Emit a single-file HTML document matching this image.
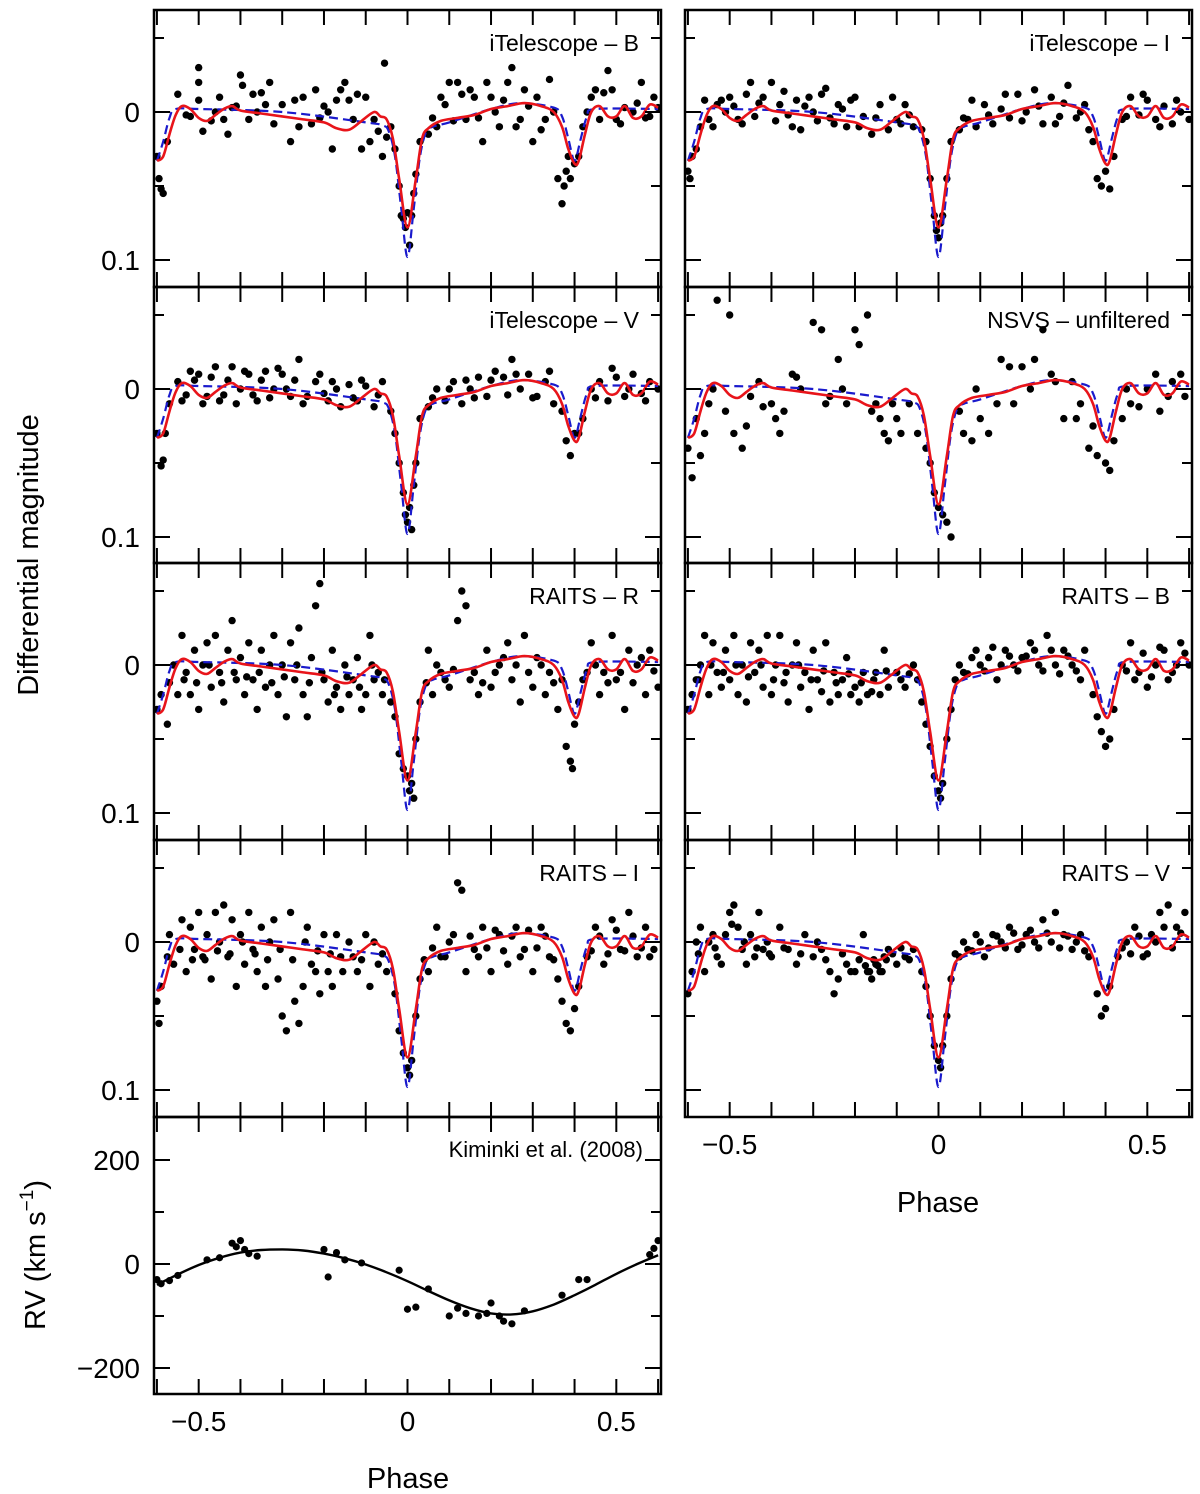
<!DOCTYPE html>
<html><head><meta charset="utf-8"><style>
html,body{margin:0;padding:0;background:#fff;}
svg{display:block;font-family:"Liberation Sans",sans-serif;}
</style></head><body>
<svg id="chart" width="1200" height="1494" viewBox="0 0 1200 1494"></svg>
<script>
// ---- data ----
const panelTitles = ["iTelescope – B","iTelescope – I","iTelescope – V","NSVS – unfiltered","RAITS – R","RAITS – B","RAITS – I","RAITS – V"];
const blueModelPhase = [-0.6,-0.585,-0.57,-0.555,-0.5,-0.3,-0.1,-0.06,-0.045,-0.03,-0.015,0,0.015,0.03,0.045,0.06,0.1,0.2,0.27,0.35,0.37,0.385,0.395,0.4,0.405,0.415,0.43,0.45,0.6];
const blueModelMag   = [0.033,0.02,0.004,-0.002,-0.002,0.0,0.007,0.009,0.013,0.03,0.065,0.098,0.065,0.03,0.013,0.01,0.007,-0.002,-0.006,-0.003,0.003,0.018,0.03,0.033,0.03,0.018,0.003,-0.002,-0.002];
const redModelPhase = [-0.6,-0.585,-0.57,-0.555,-0.54,-0.52,-0.5,-0.48,-0.46,-0.44,-0.42,-0.4,-0.35,-0.3,-0.25,-0.2,-0.17,-0.14,-0.11,-0.08,-0.065,-0.05,-0.035,-0.02,0,0.02,0.035,0.05,0.08,0.12,0.16,0.2,0.24,0.28,0.32,0.35,0.37,0.385,0.4,0.41,0.425,0.44,0.46,0.48,0.5,0.52,0.54,0.56,0.58,0.6];
const redModelMag   = [0.033,0.03,0.015,0.002,-0.004,-0.002,0.004,0.006,0.002,-0.002,-0.004,-0.001,0.001,0.003,0.005,0.007,0.011,0.012,0.006,0.0,0.003,0.005,0.018,0.045,0.078,0.045,0.018,0.011,0.006,0.004,0.002,-0.002,-0.004,-0.006,-0.004,0.0,0.01,0.025,0.035,0.033,0.015,0.0,-0.004,0.003,0.003,-0.004,0.004,0.003,-0.005,-0.003];
const pointsText = [
"-0.6,0.03 -0.595,0.045 -0.59,0.052 -0.585,0.055 -0.575,0.02 -0.55,-0.012 -0.53,0.002 -0.52,0.003 -0.5,-0.02 -0.5,-0.03 -0.5,-0.008 -0.49,0.013 -0.46,0.0 -0.44,0.005 -0.43,0.015 -0.42,-0.003 -0.41,-0.004 -0.4,-0.025 -0.395,-0.018 -0.38,0.005 -0.36,0.0 -0.35,-0.013 -0.34,-0.005 -0.33,-0.02 -0.3,-0.005 -0.28,0.02 -0.26,0.01 -0.25,-0.01 -0.23,0.008 -0.22,-0.015 -0.2,-0.004 -0.19,0.0 -0.18,0.025 -0.17,-0.008 -0.15,-0.02 -0.14,-0.008 -0.12,-0.012 -0.11,0.025 -0.1,-0.01 -0.09,0.02 -0.08,0.005 -0.07,0.013 -0.06,0.03 -0.055,-0.033 -0.05,0.017 -0.03,0.025 -0.02,0.05 -0.015,0.07 -0.01,0.072 -0.005,0.078 0,0.068 0.005,0.09 0.01,0.07 0.015,0.055 0.02,0.042 0.03,0.02 0.05,0.015 0.07,0.01 0.08,-0.01 0.1,-0.02 0.12,-0.02 0.14,0.005 0.15,-0.015 0.16,-0.01 0.18,0.02 0.2,-0.01 0.22,0.01 0.24,-0.02 0.25,-0.03 0.27,0.005 0.28,-0.015 0.3,0.02 0.31,-0.01 0.33,0.005 0.34,-0.022 0.36,0.045 0.37,0.062 0.375,0.05 0.38,0.04 0.385,0.03 0.39,0.045 0.4,0.035 0.41,0.03 0.42,0.01 0.44,-0.01 0.45,-0.015 0.47,-0.013 0.48,-0.028 0.5,0.005 0.52,-0.003 0.54,0.0 0.56,-0.02 0.58,0.003 0.6,-0.003 -0.47,0.006 -0.45,-0.01 -0.37,-0.012 -0.32,0.008 -0.27,-0.008 -0.21,0.004 -0.16,-0.015 -0.13,0.005 -0.04,0.01 0.06,0.004 0.09,-0.005 0.11,0.006 0.13,-0.012 0.17,0.004 0.19,-0.02 0.21,0.0 0.23,-0.008 0.26,0.01 0.29,-0.004 0.32,0.012 0.35,0.0 0.43,0.0 0.46,0.005 0.49,-0.015 0.51,0.008 0.55,-0.006 0.57,0.004 0.59,-0.01",
"-0.6,0.04 -0.595,0.045 -0.59,0.03 -0.58,0.025 -0.57,0.01 -0.56,-0.008 -0.55,0.005 -0.53,-0.005 -0.51,0.0 -0.5,-0.01 -0.48,0.005 -0.46,-0.012 -0.44,0.003 -0.42,-0.01 -0.4,-0.02 -0.38,-0.005 -0.36,0.002 -0.34,-0.008 -0.33,0.012 -0.31,-0.01 -0.3,0.0 -0.28,-0.012 -0.26,0.004 -0.24,-0.005 -0.22,0.01 -0.2,-0.01 -0.18,0.003 -0.16,0.015 -0.14,-0.005 -0.12,0.012 -0.1,0.005 -0.08,-0.005 -0.06,0.01 -0.04,0.012 -0.03,0.02 -0.02,0.045 -0.01,0.07 -0.005,0.08 0,0.085 0.005,0.075 0.01,0.07 0.02,0.045 0.03,0.02 0.05,0.012 0.07,0.005 0.09,0.01 0.11,-0.005 0.13,0.008 0.15,-0.002 0.17,0.004 0.19,-0.012 0.21,0.0 0.23,-0.015 0.25,0.008 0.27,-0.01 0.29,0.003 0.31,-0.018 0.33,0.004 0.35,-0.005 0.37,0.02 0.38,0.045 0.39,0.05 0.4,0.04 0.41,0.052 0.42,0.03 0.44,0.005 0.46,-0.01 0.48,0.002 0.5,-0.008 0.52,0.005 0.54,-0.004 0.56,0.008 0.58,0.0 0.6,0.005 -0.54,0.01 -0.52,-0.008 -0.49,-0.004 -0.47,0.008 -0.45,-0.02 -0.43,-0.006 -0.39,0.006 -0.37,-0.014 -0.35,0.01 -0.32,-0.004 -0.29,0.006 -0.27,-0.016 -0.25,0.008 -0.23,-0.002 -0.21,-0.008 -0.19,0.01 -0.15,0.004 -0.11,-0.01 -0.09,0.008 -0.07,0.002 0.06,0.004 0.08,-0.008 0.12,0.002 0.16,-0.012 0.2,0.006 0.24,-0.004 0.28,0.008 0.3,-0.006 0.34,0.0 0.36,0.012 0.45,0.003 0.49,-0.012 0.53,0.01 0.57,-0.008",
"-0.6,0.03 -0.59,0.052 -0.585,0.048 -0.58,0.03 -0.57,0.01 -0.55,-0.005 -0.54,0.008 -0.52,-0.012 -0.5,-0.01 -0.48,0.005 -0.46,-0.015 -0.44,0.004 -0.42,-0.015 -0.4,0.0 -0.38,-0.01 -0.36,0.008 -0.34,-0.012 -0.32,0.0 -0.3,-0.01 -0.28,0.005 -0.26,-0.02 -0.24,0.005 -0.22,-0.005 -0.2,0.003 -0.18,-0.005 -0.16,0.012 -0.14,-0.003 -0.12,0.008 -0.1,-0.002 -0.08,0.012 -0.06,-0.005 -0.04,0.015 -0.03,0.03 -0.02,0.05 -0.01,0.07 -0.005,0.085 0,0.09 0.005,0.08 0.01,0.095 0.015,0.065 0.02,0.05 0.03,0.02 0.05,0.012 0.07,0.0 0.09,0.008 0.11,-0.005 0.13,0.01 0.15,0.0 0.17,-0.008 0.19,0.005 0.21,-0.012 0.23,-0.008 0.25,-0.02 0.27,0.0 0.29,-0.01 0.31,0.005 0.33,-0.005 0.35,0.01 0.37,0.015 0.38,0.035 0.39,0.045 0.4,0.03 0.41,0.03 0.42,0.02 0.44,0.0 0.46,-0.005 0.48,0.008 0.5,-0.008 0.52,0.005 0.54,-0.01 0.56,0.003 0.58,-0.005 0.6,0.0 -0.53,0.004 -0.51,-0.006 -0.49,0.01 -0.47,-0.008 -0.45,0.008 -0.43,-0.006 -0.41,0.01 -0.39,-0.012 -0.37,0.004 -0.35,-0.006 -0.33,0.006 -0.31,-0.014 -0.29,0.0 -0.27,-0.006 -0.25,0.01 -0.21,-0.01 -0.19,0.008 -0.17,0.0 -0.13,0.006 -0.11,-0.006 -0.07,0.004 0.06,0.006 0.1,0.0 0.14,-0.006 0.16,0.006 0.2,-0.006 0.24,0.004 0.26,-0.01 0.3,0.006 0.34,-0.012 0.45,0.006 0.49,-0.014 0.53,0.0 0.57,0.008",
"-0.6,0.04 -0.59,0.06 -0.57,0.045 -0.56,0.03 -0.55,0.01 -0.53,-0.06 -0.5,-0.05 -0.49,0.03 -0.47,0.04 -0.45,0.005 -0.43,-0.005 -0.4,0.01 -0.39,0.02 -0.37,0.015 -0.35,-0.01 -0.33,0.0 -0.3,-0.045 -0.28,-0.04 -0.26,0.005 -0.24,-0.02 -0.22,0.01 -0.2,-0.04 -0.19,-0.03 -0.17,-0.05 -0.15,0.01 -0.13,0.03 -0.12,0.035 -0.1,0.02 -0.09,0.03 -0.07,0.01 -0.05,0.03 -0.03,0.04 -0.02,0.05 -0.01,0.07 0,0.08 0.01,0.085 0.02,0.09 0.03,0.1 0.06,0.03 0.08,0.035 0.1,0.02 0.12,0.03 0.15,-0.02 0.18,0.01 0.2,-0.015 0.23,-0.02 0.25,-0.04 0.27,-0.01 0.3,0.02 0.32,-0.005 0.34,0.01 0.36,0.04 0.38,0.045 0.4,0.05 0.41,0.055 0.42,0.035 0.44,0.02 0.46,0.01 0.5,0.0 0.53,0.015 0.56,-0.005 0.59,0.005 -0.58,0.02 -0.54,0.0 -0.51,0.015 -0.46,0.025 -0.42,0.012 -0.38,0.03 -0.34,-0.008 -0.27,0.01 -0.23,0.0 -0.16,0.015 -0.14,0.02 -0.11,0.01 0.05,0.015 0.09,0.0 0.14,0.01 0.17,-0.015 0.22,0.0 0.28,-0.005 0.33,0.02 0.37,0.025 0.45,0.0 0.48,0.012 0.52,-0.01 0.55,0.005 0.58,-0.01",
"-0.6,0.03 -0.59,0.02 -0.575,0.04 -0.56,0.0 -0.55,0.02 -0.54,-0.02 -0.53,0.005 -0.52,0.02 -0.51,-0.01 -0.5,0.03 -0.49,0.0 -0.48,-0.015 -0.47,0.015 -0.46,-0.02 -0.45,0.005 -0.44,0.025 -0.43,-0.01 -0.42,-0.03 -0.41,0.01 -0.4,-0.005 -0.39,0.02 -0.38,-0.015 -0.37,0.01 -0.36,0.03 -0.35,-0.01 -0.34,0.015 -0.33,0.0 -0.32,-0.02 -0.31,0.02 -0.3,0.0 -0.29,0.035 -0.28,-0.015 -0.27,0.01 -0.26,-0.025 -0.25,0.02 -0.24,0.035 -0.23,-0.005 -0.22,-0.04 -0.21,-0.055 -0.2,0.01 -0.19,0.025 -0.18,-0.01 -0.17,0.015 -0.16,0.03 -0.15,0.0 -0.14,0.02 -0.13,0.01 -0.12,-0.005 -0.11,0.03 -0.1,0.02 -0.09,-0.02 -0.08,0.01 -0.07,0.005 -0.06,0.02 -0.04,0.025 -0.03,0.035 -0.02,0.06 -0.01,0.07 0,0.075 0.005,0.085 0.01,0.08 0.015,0.09 0.02,0.05 0.03,0.025 0.05,-0.01 0.06,0.02 0.08,0.005 0.1,0.015 0.12,-0.03 0.13,-0.05 0.14,-0.04 0.15,0.01 0.17,0.02 0.19,-0.01 0.2,0.015 0.22,0.0 0.24,-0.015 0.25,0.01 0.27,0.025 0.28,-0.02 0.3,0.015 0.31,-0.005 0.33,0.02 0.34,0.005 0.36,0.03 0.37,0.01 0.38,0.055 0.39,0.065 0.395,0.07 0.4,0.04 0.41,0.025 0.42,0.01 0.44,-0.015 0.46,0.02 0.47,0.005 0.49,-0.02 0.5,0.01 0.52,0.03 0.53,-0.01 0.55,0.0 0.57,0.02 0.58,-0.01 0.6,0.015 -0.57,0.012 -0.535,0.01 -0.505,0.012 -0.475,0.0 -0.445,0.012 -0.415,0.005 -0.385,0.008 -0.355,0.005 -0.325,0.012 -0.295,0.008 -0.265,0.0 -0.235,0.012 -0.205,0.005 -0.175,0.02 -0.145,0.008 -0.115,0.015 -0.085,0.0 -0.055,0.01 0.045,0.012 0.07,0.0 0.09,0.01 0.11,0.003 0.16,0.005 0.18,0.012 0.21,0.005 0.23,-0.005 0.26,0.0 0.29,0.005 0.32,0.0 0.35,0.012 0.43,0.005 0.45,0.0 0.48,0.012 0.51,0.005 0.54,0.012 0.56,-0.005 0.59,0.004",
"-0.6,0.03 -0.59,0.02 -0.58,0.01 -0.57,0.0 -0.56,-0.02 -0.55,0.02 -0.54,-0.015 -0.53,0.005 -0.52,0.015 -0.51,-0.01 -0.5,0.01 -0.49,-0.02 -0.48,0.02 -0.47,0.0 -0.46,0.025 -0.45,-0.015 -0.44,0.005 -0.43,-0.01 -0.42,0.015 -0.41,-0.02 -0.4,0.02 -0.39,0.0 -0.38,-0.02 -0.37,0.012 -0.36,0.025 -0.35,0.0 -0.34,-0.015 -0.33,0.015 -0.32,0.005 -0.31,0.03 -0.3,-0.01 -0.29,0.01 -0.28,0.018 -0.27,-0.015 -0.26,0.025 -0.25,0.005 -0.24,0.02 -0.23,0.01 -0.22,-0.005 -0.21,0.02 -0.2,0.015 -0.19,0.025 -0.18,0.005 -0.17,0.02 -0.16,0.018 -0.15,0.005 -0.14,0.02 -0.13,-0.01 -0.12,0.015 -0.1,0.005 -0.08,0.015 -0.06,0.0 -0.04,0.025 -0.03,0.04 -0.02,0.055 -0.01,0.075 0,0.085 0.005,0.09 0.01,0.08 0.02,0.05 0.03,0.03 0.04,0.01 0.06,0.005 0.08,-0.005 0.1,0.0 0.12,-0.005 0.14,0.01 0.16,-0.01 0.18,0.0 0.2,-0.005 0.22,-0.015 0.24,0.0 0.26,-0.02 0.28,0.0 0.3,-0.01 0.32,0.0 0.34,0.01 0.35,-0.01 0.37,0.02 0.38,0.035 0.39,0.045 0.4,0.055 0.41,0.05 0.42,0.03 0.44,0.0 0.46,-0.015 0.48,0.005 0.5,0.015 0.52,0.0 0.54,-0.01 0.56,0.005 0.58,-0.015 0.6,0.0 -0.575,0.01 -0.545,0.0 -0.515,0.005 -0.485,0.0 -0.455,0.008 -0.425,0.0 -0.395,0.01 -0.365,0.005 -0.335,0.0 -0.305,0.01 -0.275,0.004 -0.245,0.012 -0.215,0.006 -0.185,0.012 -0.155,0.01 -0.125,0.004 -0.09,0.01 -0.07,0.006 -0.05,0.01 0.05,0.0 0.07,0.006 0.09,-0.01 0.11,0.004 0.13,-0.012 0.15,0.0 0.17,-0.006 0.19,0.004 0.21,-0.006 0.23,-0.01 0.25,0.004 0.27,-0.01 0.29,0.006 0.31,-0.006 0.33,0.004 0.45,0.004 0.47,0.01 0.49,-0.008 0.51,0.008 0.53,-0.012 0.55,0.01 0.57,0.0 0.59,-0.008",
"-0.6,0.04 -0.595,0.055 -0.59,0.03 -0.57,-0.005 -0.56,0.015 -0.54,-0.015 -0.53,0.02 -0.52,-0.01 -0.51,0.005 -0.5,-0.02 -0.49,0.01 -0.48,-0.005 -0.47,0.025 -0.46,-0.02 -0.45,0.0 -0.44,-0.025 -0.43,0.01 -0.42,-0.015 -0.41,0.03 -0.4,-0.005 -0.39,0.015 -0.38,-0.02 -0.37,0.005 -0.36,0.02 -0.35,-0.01 -0.34,0.03 -0.33,0.0 -0.32,-0.015 -0.31,0.025 -0.3,0.05 -0.29,0.06 -0.28,-0.02 -0.27,0.04 -0.26,0.055 -0.25,0.03 -0.24,-0.01 -0.23,0.015 -0.22,0.02 -0.21,0.035 -0.2,-0.005 -0.19,0.02 -0.18,0.03 -0.17,-0.005 -0.16,0.01 -0.14,0.0 -0.12,0.02 -0.1,-0.005 -0.09,0.03 -0.07,0.015 -0.05,0.02 -0.03,0.035 -0.02,0.06 -0.01,0.075 0,0.085 0.005,0.09 0.01,0.08 0.02,0.05 0.03,0.025 0.05,0.02 0.07,-0.01 0.09,0.01 0.11,-0.005 0.12,-0.04 0.13,-0.035 0.14,0.02 0.16,0.005 0.18,-0.01 0.2,0.02 0.22,-0.005 0.24,0.015 0.26,-0.01 0.28,0.005 0.3,0.02 0.32,-0.01 0.34,0.01 0.36,0.025 0.37,0.04 0.38,0.055 0.39,0.06 0.4,0.045 0.41,0.03 0.43,0.01 0.45,-0.01 0.47,0.015 0.49,-0.015 0.51,0.005 0.53,-0.02 0.55,0.01 0.57,-0.01 0.59,0.005 -0.575,0.01 -0.545,0.005 -0.515,0.012 -0.485,0.012 -0.455,0.006 -0.425,0.008 -0.395,0.0 -0.365,0.008 -0.335,0.012 -0.305,0.005 -0.275,0.012 -0.245,0.0 -0.215,0.006 -0.185,0.008 -0.155,0.02 -0.13,0.01 -0.11,0.012 -0.08,0.0 -0.06,0.008 0.04,0.012 0.06,0.004 0.08,0.01 0.1,0.0 0.15,-0.004 0.17,0.01 0.19,0.004 0.21,-0.008 0.23,0.006 0.25,-0.004 0.27,0.01 0.29,-0.008 0.31,0.004 0.33,-0.004 0.35,0.012 0.44,0.006 0.46,-0.004 0.48,0.008 0.5,-0.008 0.52,0.006 0.54,-0.004 0.56,0.004 0.58,0.01",
"-0.6,0.035 -0.59,0.02 -0.58,0.0 -0.57,-0.01 -0.56,0.02 -0.55,0.0 -0.54,-0.005 -0.53,0.01 -0.52,0.015 -0.51,-0.005 -0.5,-0.02 -0.49,-0.025 -0.48,-0.01 -0.47,0.005 -0.46,0.015 -0.45,-0.005 -0.44,0.01 -0.43,-0.02 -0.42,0.005 -0.41,0.0 -0.4,0.01 -0.38,-0.01 -0.36,0.005 -0.34,0.015 -0.32,-0.005 -0.3,0.01 -0.28,0.005 -0.26,0.02 -0.25,0.035 -0.24,0.025 -0.22,0.015 -0.2,0.02 -0.18,-0.005 -0.17,0.02 -0.16,0.025 -0.15,0.015 -0.14,0.02 -0.13,0.01 -0.12,0.005 -0.1,0.015 -0.08,0.01 -0.06,0.005 -0.04,0.02 -0.03,0.03 -0.02,0.05 -0.01,0.07 0,0.08 0.005,0.085 0.01,0.07 0.02,0.05 0.03,0.025 0.05,0.01 0.07,0.005 0.09,-0.005 0.11,0.01 0.13,-0.005 0.15,0.0 0.17,-0.01 0.19,0.005 0.21,-0.005 0.23,0.0 0.25,-0.015 0.27,0.0 0.28,-0.02 0.3,-0.005 0.32,0.005 0.34,-0.005 0.36,0.01 0.38,0.035 0.39,0.05 0.4,0.045 0.41,0.03 0.43,0.01 0.45,0.0 0.47,-0.01 0.49,0.01 0.51,-0.005 0.53,-0.02 0.55,-0.025 0.57,-0.01 0.59,-0.02 -0.575,0.008 -0.535,0.004 -0.495,-0.012 -0.465,0.0 -0.435,0.004 -0.405,0.008 -0.37,0.004 -0.33,0.008 -0.29,0.0 -0.27,0.012 -0.23,0.008 -0.21,0.02 -0.19,0.012 -0.175,0.016 -0.165,0.02 -0.155,0.012 -0.145,0.016 -0.135,0.02 -0.125,0.012 -0.11,0.008 -0.09,0.004 -0.07,0.012 0.04,0.008 0.06,0.0 0.08,0.006 0.1,0.0 0.12,0.004 0.14,-0.004 0.16,0.004 0.18,-0.006 0.2,0.002 0.22,-0.008 0.24,0.004 0.26,-0.006 0.29,0.004 0.31,-0.004 0.33,0.0 0.35,0.006 0.44,0.004 0.46,0.008 0.48,-0.004 0.5,0.008 0.52,0.0 0.54,-0.01 0.56,0.004 0.58,-0.006"
];
const rvPhases = [-0.6,-0.59,-0.57,-0.55,-0.48,-0.45,-0.42,-0.41,-0.4,-0.39,-0.38,-0.36,-0.2,-0.19,-0.17,-0.15,-0.11,-0.02,0,0.02,0.05,0.1,0.12,0.14,0.17,0.19,0.2,0.22,0.23,0.25,0.28,0.37,0.41,0.43,0.58,0.59,0.6];
const rvValues = [-30,-38,-32,-22,8,12,40,33,45,28,20,15,28,-25,22,8,2,-12,-87,-83,-48,-100,-85,-95,-100,-95,-75,-100,-110,-115,-90,-60,-30,-30,18,30,45];
const rvCurvePhase = [-0.6,-0.55,-0.5,-0.45,-0.4,-0.35,-0.3,-0.25,-0.2,-0.15,-0.1,-0.05,0,0.05,0.1,0.15,0.2,0.25,0.3,0.35,0.4,0.45,0.5,0.55,0.6];
const rvCurveValue = [-40,-20,-2,12,22,27,28,26,20,11,-1,-16,-33,-52,-70,-85,-95,-97,-91,-78,-60,-40,-19,0,17];
const xTicks = [-0.5,0,0.5];
const xTickLabels = ["−0.5","0","0.5"];
const magTicks = [0,0.1];
const magTickLabels = ["0","0.1"];
const rvTicks = [200,0,-200];
const rvTickLabels = ["200","0","−200"];

// ---- layout ----
const NS="http://www.w3.org/2000/svg";
const svg=document.getElementById('chart');
function mk(tag,attrs,parent){const e=document.createElementNS(NS,tag);for(const k in attrs)e.setAttribute(k,attrs[k]);(parent||svg).appendChild(e);return e;}
const cols=[{x0:154,x1:661},{x0:685,x1:1192}];
const rows=[{y0:10,y1:287},{y0:287,y1:563},{y0:563,y1:840},{y0:840,y1:1117}];
const XMIN=-0.607,XMAX=0.607;
function xs(c,p){return c.x0+(p-XMIN)/(XMAX-XMIN)*(c.x1-c.x0);}
function ysMag(r,m){return r.y0+102+m*1480;}
function parsePts(s){const ph=[],mg=[];s.trim().split(/\s+/).forEach(t=>{const a=t.split(',');ph.push(+a[0]);mg.push(+a[1]);});return {ph,mg};}

function frameTicks(c,r,g,yMajor,yMinor,ysF){
  for(let p=-0.6;p<=0.6001;p+=0.1){const x=xs(c,p);
    mk('line',{x1:x,y1:r.y0,x2:x,y2:r.y0+15,stroke:'#000','stroke-width':2},g);
    mk('line',{x1:x,y1:r.y1,x2:x,y2:r.y1-15,stroke:'#000','stroke-width':2},g);}
  yMajor.forEach(v=>{const y=ysF(v);
    mk('line',{x1:c.x0,y1:y,x2:c.x0+16,y2:y,stroke:'#000','stroke-width':2},g);
    mk('line',{x1:c.x1,y1:y,x2:c.x1-16,y2:y,stroke:'#000','stroke-width':2},g);});
  yMinor.forEach(v=>{const y=ysF(v);
    mk('line',{x1:c.x0,y1:y,x2:c.x0+10,y2:y,stroke:'#000','stroke-width':2},g);
    mk('line',{x1:c.x1,y1:y,x2:c.x1-10,y2:y,stroke:'#000','stroke-width':2},g);});
  mk('rect',{x:c.x0,y:r.y0,width:c.x1-c.x0,height:r.y1-r.y0,fill:'none',stroke:'#000','stroke-width':2.5},g);
}
function pathFrom(c,phs,vals,yf){
  const P=phs.map((p,i)=>[xs(c,p),yf(vals[i])]);
  let d='M'+P[0][0].toFixed(1)+' '+P[0][1].toFixed(1);
  for(let i=0;i<P.length-1;i++){
    const p0=P[Math.max(0,i-1)],p1=P[i],p2=P[i+1],p3=P[Math.min(P.length-1,i+2)];
    const c1=[p1[0]+(p2[0]-p0[0])/6,p1[1]+(p2[1]-p0[1])/6];
    const c2=[p2[0]-(p3[0]-p1[0])/6,p2[1]-(p3[1]-p1[1])/6];
    d+=' C'+c1[0].toFixed(1)+' '+c1[1].toFixed(1)+' '+c2[0].toFixed(1)+' '+c2[1].toFixed(1)+' '+p2[0].toFixed(1)+' '+p2[1].toFixed(1);
  }
  return d;
}

for(let i=0;i<8;i++){
  const c=cols[i%2],r=rows[Math.floor(i/2)];
  const g=mk('g',{});
  
  
  const cid='clip'+i;
  const cp=mk('clipPath',{id:cid},g);mk('rect',{x:c.x0,y:r.y0,width:c.x1-c.x0,height:r.y1-r.y0},cp);
  const inner=mk('g',{'clip-path':'url(#'+cid+')'},g);
  const yf=m=>ysMag(r,m);
  const d=parsePts(pointsText[i]);
  d.ph.forEach((p,k)=>{const dot=mk('circle',{cx:xs(c,p),cy:yf(d.mg[k]),r:3.7,fill:'#000'},inner);
    
    });
  const bl=mk('path',{d:pathFrom(c,blueModelPhase,blueModelMag,yf),fill:'none',stroke:'#1a1acc','stroke-width':2.2,'stroke-dasharray':'9,5'},inner);
  
  
  const rl=mk('path',{d:pathFrom(c,redModelPhase,redModelMag,yf),fill:'none',stroke:'#e8141a','stroke-width':2.6,'stroke-linejoin':'round'},inner);
  
  
  frameTicks(c,r,g,magTicks,[-0.05,0.05],yf);
  const t=mk('text',{x:c.x1-22,y:r.y0+41,'text-anchor':'end','font-size':23},g);t.textContent=panelTitles[i];
  
  
  if(i%2===0){magTicks.forEach((v,k)=>{const tl=mk('text',{x:140,y:yf(v)+10,'text-anchor':'end','font-size':28},g);tl.textContent=magTickLabels[k];
    
    });}
}
// right column x labels
xTicks.forEach((v,k)=>{const tl=mk('text',{x:xs(cols[1],v),y:1154,'text-anchor':'middle','font-size':28});tl.textContent=xTickLabels[k];
  
  });
// RV panel
{
  const c=cols[0],r={y0:1117,y1:1394};
  const g=mk('g',{});
  
  
  const yf=v=>1264-v*0.52;
  const cp=mk('clipPath',{id:'cliprv'},g);mk('rect',{x:c.x0,y:r.y0,width:c.x1-c.x0,height:r.y1-r.y0},cp);
  const inner=mk('g',{'clip-path':'url(#cliprv)'},g);
  rvPhases.forEach((p,k)=>{const dot=mk('circle',{cx:xs(c,p),cy:yf(rvValues[k]),r:3.6,fill:'#000'},inner);
    
    });
  const cl=mk('path',{d:pathFrom(c,rvCurvePhase,rvCurveValue,yf),fill:'none',stroke:'#000','stroke-width':2.4},inner);
  
  
  frameTicks(c,r,g,rvTicks,[100,-100],yf);
  const t=mk('text',{x:c.x1-18,y:r.y0+40,'text-anchor':'end','font-size':22},g);t.textContent='Kiminki et al. (2008)';
  
  
  rvTicks.forEach((v,k)=>{const tl=mk('text',{x:140,y:yf(v)+10,'text-anchor':'end','font-size':28},g);tl.textContent=rvTickLabels[k];
    
    });
  xTicks.forEach((v,k)=>{const tl=mk('text',{x:xs(c,v),y:1431,'text-anchor':'middle','font-size':28},g);tl.textContent=xTickLabels[k];
    
    });
}
// axis titles
let a=mk('text',{x:938,y:1212,'text-anchor':'middle','font-size':29});a.textContent='Phase';


a=mk('text',{x:408,y:1488,'text-anchor':'middle','font-size':29});a.textContent='Phase';


a=mk('text',{x:0,y:0,'text-anchor':'middle','font-size':29,transform:'translate(38,555) rotate(-90)'});a.textContent='Differential magnitude';


a=mk('text',{x:0,y:0,'text-anchor':'middle','font-size':29,transform:'translate(45,1255) rotate(-90)'});


a.innerHTML='RV (km s<tspan dy="-12" font-size="19">−1</tspan><tspan dy="12">)</tspan>';
</script>
</body></html>
